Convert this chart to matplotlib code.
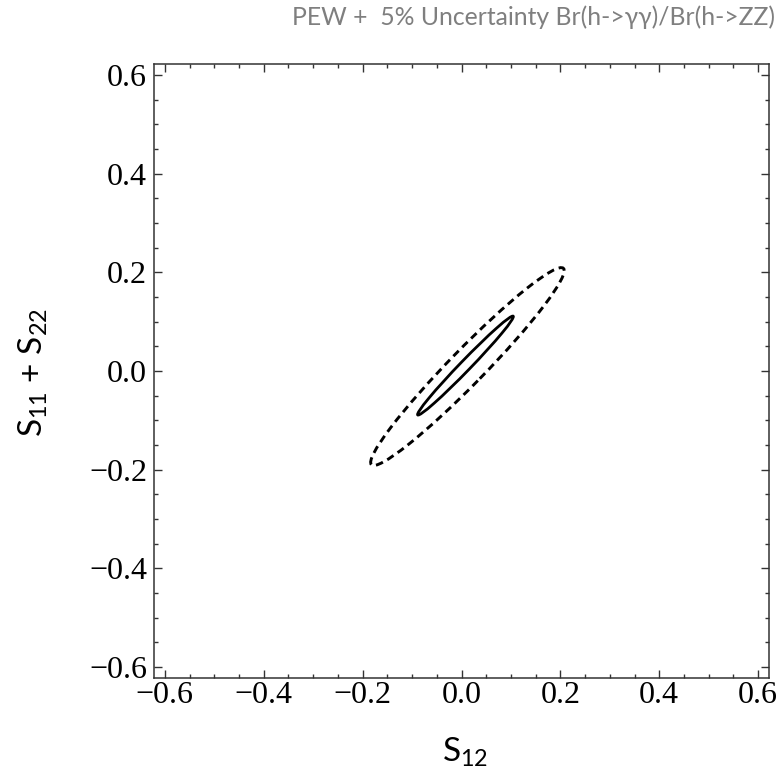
import matplotlib
matplotlib.use("Agg")
import matplotlib.pyplot as plt
from matplotlib.patches import Ellipse
from matplotlib.ticker import MultipleLocator, FuncFormatter

# contour ellipses: inner = solid, outer = dashed
ellipse_names = ["inner", "outer"]
center_x = [0.008, 0.012]
center_y = [0.011, 0.009]
semi_major = [0.139, 0.278]
semi_minor = [0.0105, 0.035]
angle_deg = [46.0, 45.7]

axis_limit = 0.622
major_ticks = [-0.6, -0.4, -0.2, 0.0, 0.2, 0.4, 0.6]

title_text = "PEW +  5% Uncertainty Br(h->\u03b3\u03b3)/Br(h->ZZ)"
xlabel_text = "S$_{12}$"
ylabel_text = "S$_{11}$ + S$_{22}$"

plt.rcParams["mathtext.default"] = "regular"
sans = ["Lato", "DejaVu Sans"]
serif = ["Liberation Serif", "DejaVu Serif"]

fig = plt.figure(figsize=(7.81, 7.78), dpi=100)
ax = fig.add_axes([154 / 781, 1 - 678 / 778, (769 - 154) / 781, (678 - 64) / 778])

styles = {"inner": dict(linestyle="-", linewidth=2.0),
          "outer": dict(linestyle=(0, (2.6, 1.7)), linewidth=2.1)}
for i, name in enumerate(ellipse_names):
    e = Ellipse((center_x[i], center_y[i]), 2 * semi_major[i], 2 * semi_minor[i],
                angle=angle_deg[i], fill=False, edgecolor="black",
                capstyle="butt", **styles[name])
    ax.add_patch(e)

ax.set_xlim(-axis_limit, axis_limit)
ax.set_ylim(-axis_limit, axis_limit)

ax.set_xticks(major_ticks)
ax.set_yticks(major_ticks)
ax.xaxis.set_minor_locator(MultipleLocator(0.05))
ax.yaxis.set_minor_locator(MultipleLocator(0.05))
fmt = FuncFormatter(lambda v, p: f"{v:.1f}".replace("-", "\u2212"))
ax.xaxis.set_major_formatter(fmt)
ax.yaxis.set_major_formatter(fmt)

ax.tick_params(which="both", direction="in", top=True, right=True, width=1.0, color="#333333")
ax.tick_params(which="major", length=5.5)
ax.tick_params(which="minor", length=3)
ax.tick_params(axis="x", which="major", pad=2.5)
ax.tick_params(axis="y", which="major", pad=5)
for lab in ax.get_xticklabels() + ax.get_yticklabels():
    lab.set_fontfamily(serif)
    lab.set_fontsize(23)

for sp in ax.spines.values():
    sp.set_linewidth(1.1)
    sp.set_color("#333333")

fig.text(775 / 781, 1 - 17 / 778, title_text, ha="right", va="center",
         fontsize=17.8, color="#7f7f7f", family=sans)
fig.text(465 / 781, 1 - 752 / 778, xlabel_text, ha="center", va="center",
         fontsize=24, family=sans)
fig.text(33 / 781, 1 - 372 / 778, ylabel_text, ha="center", va="center",
         rotation=90, fontsize=24, family=sans)

plt.savefig("out.png", dpi=100)
plt.close()
